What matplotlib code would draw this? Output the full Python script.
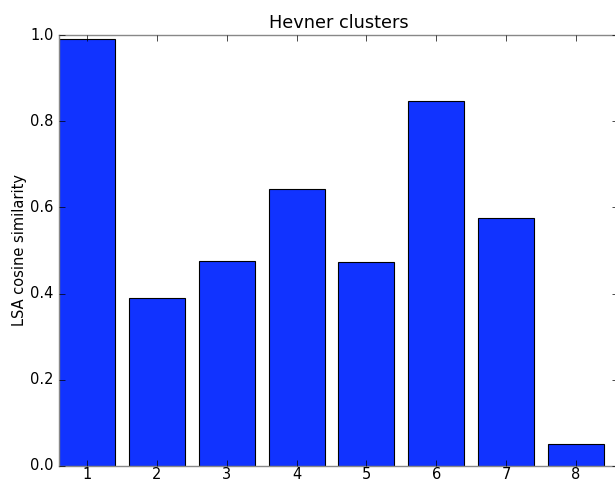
import matplotlib
matplotlib.use('Agg')
from matplotlib import pyplot as plt

clusters = [1, 2, 3, 4, 5, 6, 7, 8]
similarity = [0.991, 0.390, 0.476, 0.643, 0.473, 0.847, 0.575, 0.051]

plt.style.use('classic')
plt.rcParams['font.family'] = 'DejaVu Sans'

fig = plt.figure(figsize=(6.15, 4.82), dpi=100, facecolor='white')
ax = fig.add_axes([59 / 615, 16 / 482, 559 / 615, 431 / 482])

ax.bar(clusters, similarity, width=0.8, align='center',
       color='#1133ff', edgecolor='black', linewidth=0.8)

ax.set_xlim(0.6, 8.6)
ax.set_ylim(0, 1.0)
ax.set_xticks(clusters)
ax.set_yticks([0.0, 0.2, 0.4, 0.6, 0.8, 1.0])
ax.tick_params(labelsize=10.5, length=4, direction='in')
ax.tick_params(axis='x', pad=0.5)

for spine in ax.spines.values():
    spine.set_color('#888888')

ax.set_title('Hevner clusters', fontsize=12.8)
ax.set_ylabel('LSA cosine similarity', fontsize=10.5, labelpad=2)

fig.savefig('out.png', dpi=100, facecolor='white')
